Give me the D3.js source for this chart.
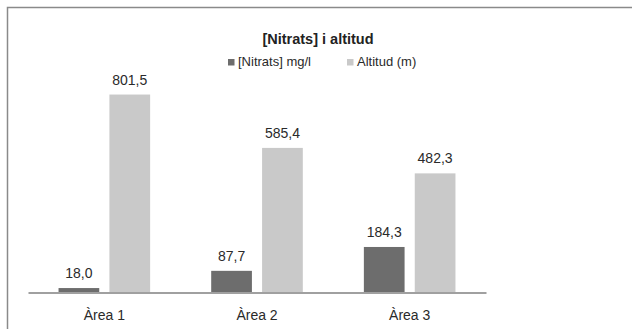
<!DOCTYPE html>
<html><head><meta charset="utf-8">
<script src="https://cdn.jsdelivr.net/npm/d3@7"></script>
<style>body{margin:0;background:#fff}svg{display:block}</style>
</head><body>
<script>
const categories = ["Àrea 1", "Àrea 2", "Àrea 3"];
const seriesNames = ["[Nitrats] mg/l", "Altitud (m)"];
const nitrats = [18.0, 87.7, 184.3];
const altitud = [801.5, 585.4, 482.3];
const colors = ["#6d6d6d", "#c9c9c9"];
const title = "[Nitrats] i altitud";

const W = 632, H = 329;
const svg = d3.select("body").append("svg").attr("width", W).attr("height", H);
const font = "'Liberation Sans', Arial, sans-serif";

// frame
svg.append("path").attr("d", "M7.5,329 V7.5 H632")
  .attr("fill", "none").attr("stroke", "#8a8a8a").attr("stroke-width", 1.5);

const x0 = d3.scaleBand().domain(categories).range([28, 486]);
const x1 = d3.scaleBand().domain(seriesNames).range([0, x0.bandwidth()]).paddingInner(0.2).paddingOuter(0.6);
const y = d3.scaleLinear().domain([0, 900]).range([292.5, 70.2]);

const series = [nitrats, altitud];
const g = svg.append("g");
series.forEach((vals, si) => {
  g.selectAll(".b" + si).data(vals).enter().append("rect")
    .attr("x", (d, i) => x0(categories[i]) + x1(seriesNames[si]))
    .attr("width", x1.bandwidth())
    .attr("y", d => y(d))
    .attr("height", d => y(0) - y(d))
    .attr("fill", colors[si]);
  g.selectAll(".l" + si).data(vals).enter().append("text")
    .attr("x", (d, i) => x0(categories[i]) + x1(seriesNames[si]) + x1.bandwidth() / 2)
    .attr("y", d => y(d) - 10)
    .attr("text-anchor", "middle")
    .attr("font-family", font).attr("font-size", 14).attr("fill", "#2a2a2a")
    .text(d => d.toFixed(1).replace(".", ","));
});

// axis
const ax = svg.append("g").attr("transform", "translate(0,292.5)")
  .call(d3.axisBottom(x0).tickSize(0).tickPadding(18));
ax.select(".domain").attr("stroke", "#a0a0a0").attr("stroke-width", 2);
ax.selectAll("text").attr("font-family", font).attr("font-size", 14).attr("fill", "#2a2a2a");

// title
svg.append("text").attr("x", 318).attr("y", 44).attr("text-anchor", "middle")
  .attr("font-family", font).attr("font-weight", "bold").attr("font-size", 14.5).attr("fill", "#222")
  .text(title);

// legend
const legX = [228, 347];
seriesNames.forEach((s, i) => {
  svg.append("rect").attr("x", legX[i]).attr("y", 59).attr("width", 6.5).attr("height", 6.5).attr("fill", colors[i]);
  svg.append("text").attr("x", legX[i] + 10).attr("y", 66)
    .attr("font-family", font).attr("font-size", 13).attr("fill", "#2a2a2a").text(s);
});
</script>
</body></html>
